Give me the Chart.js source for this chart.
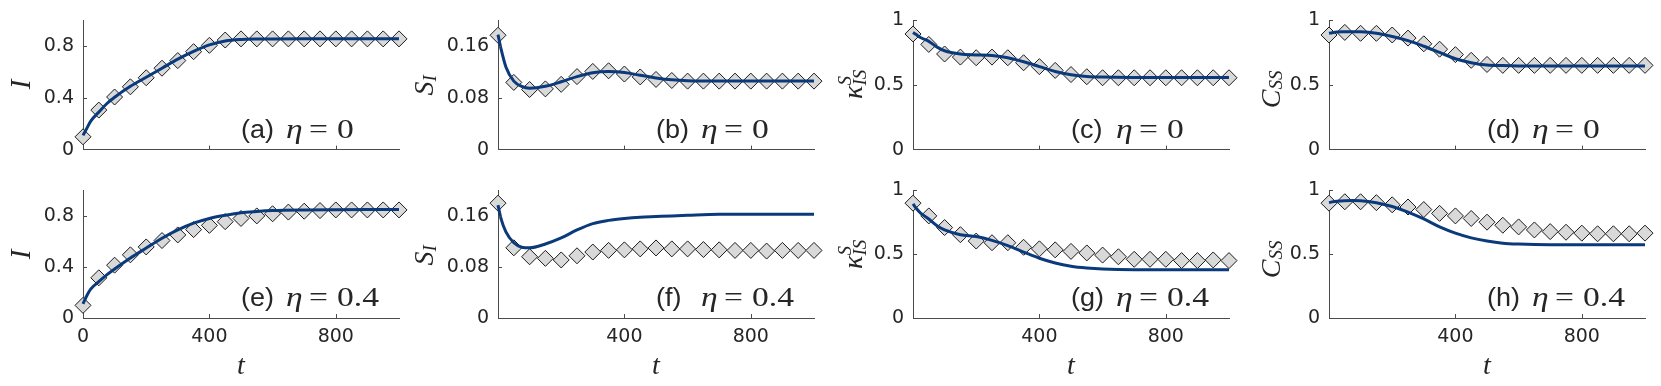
<!DOCTYPE html>
<html>
<head>
<meta charset="utf-8">
<script src="https://cdn.jsdelivr.net/npm/chart.js@4.4.1/dist/chart.umd.min.js"></script>
<style>
  html, body { margin: 0; padding: 0; background: #ffffff; }
  #wrap { position: relative; width: 1661px; height: 386px; background: #ffffff; overflow: hidden; }
  #wrap canvas { position: absolute; }
</style>
</head>
<body>
<div id="wrap"></div>
<script>
// ---------------- DATA ----------------
const tMarkers = [0, 50, 100, 150, 200, 250, 300, 350, 400, 450, 500, 550, 600, 650, 700, 750, 800, 850, 900, 950, 1000];
const tLine    = [0, 10, 25, 50, 75, 100, 150, 200, 250, 300, 350, 400, 450, 500, 550, 600, 700, 800, 900, 1000];

// (a) I, eta = 0
const lineA = [0.11, 0.155, 0.222, 0.29, 0.355, 0.405, 0.49, 0.56, 0.63, 0.70, 0.76, 0.81, 0.84, 0.852, 0.856, 0.857, 0.858, 0.858, 0.858, 0.858];
const markA = [0.099, 0.306, 0.407, 0.486, 0.556, 0.63, 0.689, 0.758, 0.807, 0.848, 0.857, 0.857, 0.857, 0.857, 0.857, 0.857, 0.857, 0.857, 0.857, 0.857, 0.857];
// (b) S_I, eta = 0
const lineB = [0.178, 0.155, 0.128, 0.106, 0.098, 0.095, 0.098, 0.105, 0.113, 0.119, 0.121, 0.1195, 0.115, 0.111, 0.108, 0.1065, 0.106, 0.106, 0.106, 0.106];
const markB = [0.177, 0.104, 0.093, 0.094, 0.101, 0.113, 0.121, 0.122, 0.117, 0.1125, 0.1086, 0.107, 0.106, 0.106, 0.106, 0.106, 0.106, 0.106, 0.106, 0.106, 0.106];
// (c) kappa, eta = 0
const lineC = [0.907, 0.89, 0.866, 0.838, 0.795, 0.765, 0.74, 0.733, 0.728, 0.711, 0.68, 0.642, 0.605, 0.58, 0.566, 0.561, 0.559, 0.559, 0.559, 0.559];
const markC = [0.895, 0.814, 0.74, 0.716, 0.711, 0.716, 0.711, 0.672, 0.642, 0.613, 0.581, 0.564, 0.556, 0.556, 0.556, 0.556, 0.556, 0.556, 0.556, 0.556, 0.556];
// (d) C_SS, eta = 0
const lineD = [0.9, 0.905, 0.91, 0.912, 0.913, 0.912, 0.9, 0.875, 0.843, 0.80, 0.752, 0.703, 0.672, 0.654, 0.65, 0.648, 0.647, 0.647, 0.647, 0.647];
const markD = [0.887, 0.907, 0.9, 0.9, 0.887, 0.863, 0.819, 0.777, 0.735, 0.691, 0.659, 0.652, 0.652, 0.652, 0.652, 0.652, 0.652, 0.652, 0.652, 0.652, 0.652];
// (e) I, eta = 0.4
const lineE = [0.111, 0.165, 0.228, 0.285, 0.338, 0.384, 0.47, 0.548, 0.625, 0.69, 0.743, 0.78, 0.805, 0.825, 0.835, 0.842, 0.847, 0.849, 0.85, 0.85];
const markE = [0.099, 0.315, 0.414, 0.495, 0.557, 0.607, 0.651, 0.693, 0.726, 0.755, 0.78, 0.80, 0.817, 0.83, 0.837, 0.842, 0.847, 0.847, 0.847, 0.847, 0.847];
// (f) S_I, eta = 0.4
const lineF = [0.177, 0.155, 0.135, 0.118, 0.111, 0.110, 0.116, 0.1255, 0.138, 0.148, 0.153, 0.156, 0.158, 0.159, 0.160, 0.161, 0.1625, 0.1625, 0.1625, 0.1625];
const markF = [0.18, 0.11, 0.096, 0.0935, 0.091, 0.0975, 0.1034, 0.106, 0.1068, 0.1083, 0.1098, 0.1083, 0.1083, 0.1073, 0.1068, 0.1059, 0.1059, 0.1049, 0.1059, 0.1059, 0.1059];
// (g) kappa, eta = 0.4
const lineG = [0.894, 0.86, 0.82, 0.776, 0.725, 0.69, 0.653, 0.638, 0.608, 0.567, 0.517, 0.468, 0.431, 0.406, 0.392, 0.384, 0.379, 0.379, 0.379, 0.379];
const markG = [0.9, 0.8, 0.709, 0.653, 0.603, 0.59, 0.59, 0.554, 0.542, 0.534, 0.522, 0.51, 0.493, 0.48, 0.46, 0.46, 0.46, 0.45, 0.45, 0.455, 0.45];
// (h) C_SS, eta = 0.4
const lineH = [0.904, 0.91, 0.915, 0.919, 0.92, 0.919, 0.904, 0.874, 0.83, 0.776, 0.714, 0.665, 0.628, 0.603, 0.586, 0.579, 0.574, 0.574, 0.574, 0.574];
const markH = [0.9, 0.911, 0.911, 0.904, 0.887, 0.87, 0.85, 0.82, 0.80, 0.78, 0.751, 0.727, 0.714, 0.69, 0.677, 0.672, 0.665, 0.66, 0.66, 0.66, 0.665];

const yTicksI = [0, 0.4, 0.8];
const yTicksS = [0, 0.08, 0.16];
const yTicksK = [0, 0.5, 1];
const xTicksFirst = [0, 400, 800];
const xTicksOther = [400, 800];
const panelLetters = ['a', 'b', 'c', 'd', 'e', 'f', 'g', 'h'];
const etaValues = ['0', '0.4'];

// ---------------- STYLE ----------------
const NAVY = '#0b3a7c';
const AXIS = '#4a4a4a';
const TXT = '#262626';
const SANS = '"Liberation Sans", Arial, Helvetica, sans-serif';
const SERIF = '"Liberation Serif", "Times New Roman", serif';
const TICKFONT = '"DejaVu Sans", sans-serif';

const colAxisX = [83, 498, 913, 1329];
const PLOT_W = 316, L = 83, R = 16;

// y-title specs per column
const yTitleSpec = [
  { dx: -53, cy: 64, parts: [{ t: 'I', s: 29 }] },
  { dx: -65, cy: 65, parts: [{ t: 'S', s: 28 }, { t: 'I', s: 19, dv: 3 }] },
  { dx: -51, cy: 64, parts: [{ t: 'κ', s: 28 }, { t: 'S', s: 19, dv: -11, noadv: true }, { t: 'IS', s: 19, dv: 4 }] },
  { dx: -49, cy: 69, parts: [{ t: 'C', s: 28 }, { t: 'SS', s: 19, dv: 2 }] }
];
const yMaxes = [1, 0.2, 1, 1];
const yTickSets = [yTicksI, yTicksS, yTicksK, yTicksK];
const lines = [lineA, lineB, lineC, lineD, lineE, lineF, lineG, lineH];
const marks = [markA, markB, markC, markD, markE, markF, markG, markH];

function drawSeg(ctx, text, font, x, y, sx) {
  ctx.save();
  ctx.font = font;
  ctx.translate(x, y);
  ctx.scale(sx, 1);
  ctx.fillText(text, 0, 0);
  ctx.restore();
}

function makePanel(idx) {
  const row = Math.floor(idx / 4), col = idx % 4;
  const axisX = colAxisX[col];
  const canvasLeft = axisX - L;
  const T = row === 0 ? 19 : 13;
  const B = row === 0 ? 16 : 68;
  const H = row === 0 ? 170 : 216;
  const top = row === 0 ? 0 : 170;
  const W = L + PLOT_W + R;

  const cv = document.createElement('canvas');
  cv.width = W; cv.height = H;
  cv.style.left = canvasLeft + 'px';
  cv.style.top = top + 'px';
  cv.style.width = W + 'px';
  cv.style.height = H + 'px';
  document.getElementById('wrap').appendChild(cv);

  const yTicks = yTickSets[col];
  const xTicks = row === 0 ? [] : (col === 0 ? xTicksFirst : xTicksOther);
  const spec = yTitleSpec[col];

  const overlay = {
    id: 'overlay' + idx,
    afterDraw(chart) {
      const ctx = chart.ctx;
      const ca = chart.chartArea;
      const xs = chart.scales.x, ys = chart.scales.y;
      ctx.save();
      // inward ticks
      ctx.strokeStyle = AXIS;
      ctx.lineWidth = 1;
      ctx.beginPath();
      yTicks.forEach(v => {
        if (v === 0) return;
        const py = Math.round(ys.getPixelForValue(v)) + 0.5;
        ctx.moveTo(ca.left, py); ctx.lineTo(ca.left + 4, py);
      });
      xTicksOther.forEach(v => {
        const px = Math.round(xs.getPixelForValue(v)) + 0.5;
        ctx.moveTo(px, ca.bottom); ctx.lineTo(px, ca.bottom - 4);
      });
      ctx.stroke();

      // panel annotation
      ctx.fillStyle = TXT;
      ctx.textBaseline = 'alphabetic';
      ctx.textAlign = 'left';
      const ax = xs.getPixelForValue(500);
      const ay = ca.bottom - 12;
      drawSeg(ctx, '(' + panelLetters[idx] + ')', '25px ' + SANS, ax, ay, 1.08);
      drawSeg(ctx, 'η', 'italic 28px ' + SERIF, ax + 45, ay, 1.2);
      drawSeg(ctx, '=', '28px ' + SERIF, ax + 68, ay, 1.2);
      drawSeg(ctx, etaValues[row], '28px ' + SERIF, ax + 96, ay, 1.2);

      // y title (rotated)
      const bx = ca.left + spec.dx;
      const cy = ca.top + spec.cy;
      let total = 0;
      const adv = [];
      spec.parts.forEach(p => {
        ctx.font = 'italic ' + p.s + 'px ' + SERIF;
        const w = ctx.measureText(p.t).width;
        adv.push(w);
        if (!p.noadv) total += w;
      });
      ctx.save();
      ctx.translate(bx, cy);
      ctx.rotate(-Math.PI / 2);
      let u = -total / 2;
      spec.parts.forEach((p, i) => {
        ctx.font = 'italic ' + p.s + 'px ' + SERIF;
        ctx.fillText(p.t, u, p.dv || 0);
        if (!p.noadv) u += adv[i];
      });
      ctx.restore();

      // x title
      if (row === 1) {
        ctx.font = 'italic 28px ' + SERIF;
        ctx.textAlign = 'center';
        ctx.fillText('t', (ca.left + ca.right) / 2, ca.bottom + 56);
      }
      ctx.restore();
    }
  };

  new Chart(cv, {
    type: 'line',
    data: {
      datasets: [
        {
          label: 'model',
          data: tLine.map((t, i) => ({ x: t, y: lines[idx][i] })),
          borderColor: NAVY,
          borderWidth: 3,
          pointRadius: 0,
          fill: false,
          cubicInterpolationMode: 'monotone',
          order: 1,
          clip: false
        },
        {
          label: 'simulation',
          data: tMarkers.map((t, i) => ({ x: t, y: marks[idx][i] })),
          showLine: false,
          pointStyle: 'rectRot',
          pointRadius: 8,
          pointBackgroundColor: '#d9d9d9',
          pointBorderColor: '#1a1a1a',
          pointBorderWidth: 1,
          order: 2,
          clip: false
        }
      ]
    },
    options: {
      responsive: false,
      animation: false,
      events: [],
      layout: { padding: { top: T, right: R, left: 0, bottom: 0 } },
      plugins: { legend: { display: false }, tooltip: { enabled: false } },
      scales: {
        x: {
          type: 'linear',
          min: 0, max: 1000,
          afterBuildTicks: s => { s.ticks = xTicks.map(v => ({ value: v })); },
          afterFit: s => { s.height = B; },
          grid: { display: false, drawTicks: false },
          border: { display: true, color: AXIS, width: 1 },
          ticks: {
            display: row === 1,
            padding: 8,
            color: TXT,
            font: { family: TICKFONT, size: 19 },
            maxRotation: 0,
            autoSkip: false,
            callback: v => String(v)
          }
        },
        y: {
          type: 'linear',
          min: 0, max: yMaxes[col],
          afterBuildTicks: s => { s.ticks = yTicks.map(v => ({ value: v })); },
          afterFit: s => { s.width = L; },
          grid: { display: false, drawTicks: false },
          border: { display: true, color: AXIS, width: 1 },
          ticks: {
            padding: 9,
            color: TXT,
            font: { family: TICKFONT, size: 19 },
            autoSkip: false,
            callback: v => String(v)
          }
        }
      }
    },
    plugins: [overlay]
  });
}

for (let i = 0; i < 8; i++) makePanel(i);
</script>
</body>
</html>
